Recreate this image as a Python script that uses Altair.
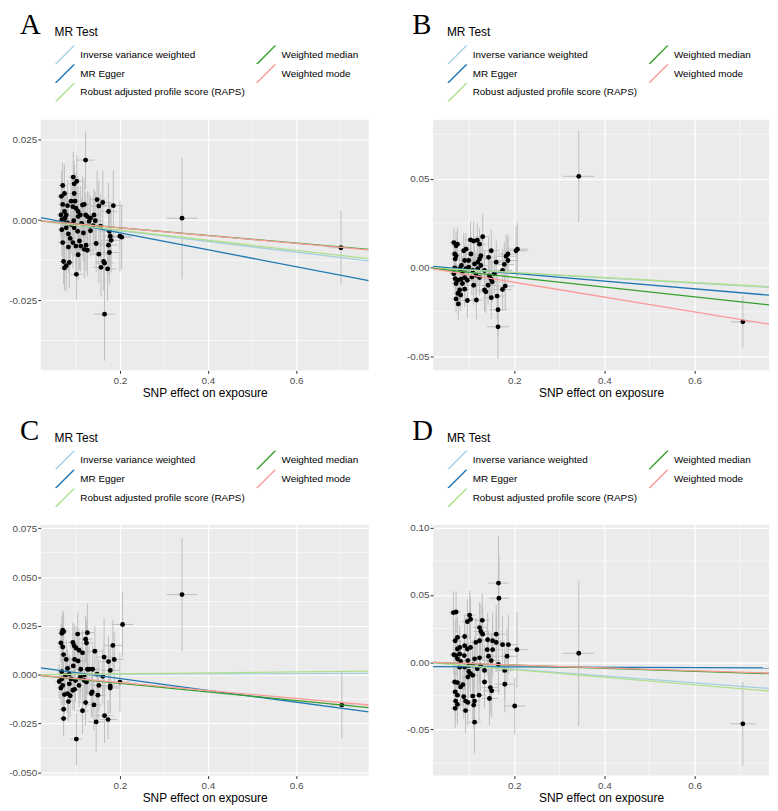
import altair as alt
import pandas as pd

# ---------------- data ----------------
METHODS = ["Inverse variance weighted", "MR Egger", "Robust adjusted profile score (RAPS)",
           "Weighted median", "Weighted mode"]
METHOD_COLORS = ["#A6CEE3", "#1F78B4", "#B2DF8A", "#33A02C", "#FB9A99"]

X_DOMAIN = [0.02, 0.765]
X_TICKS = [0.2, 0.4, 0.6]
X_MINOR = [0.1, 0.3, 0.5, 0.7]

# Panel A
A_x = [0.122, 0.094, 0.070, 0.067, 0.074, 0.096, 0.102, 0.096, 0.089, 0.070,
       0.093, 0.100, 0.074, 0.078, 0.119, 0.115, 0.148, 0.161, 0.152, 0.185,
       0.174, 0.141, 0.122, 0.105, 0.110, 0.126, 0.133, 0.144, 0.068, 0.072,
       0.081, 0.089, 0.078, 0.068, 0.096, 0.104, 0.117, 0.133, 0.156, 0.176,
       0.178, 0.200, 0.204, 0.083, 0.070, 0.093, 0.100, 0.111, 0.119, 0.126,
       0.083, 0.146, 0.180, 0.174, 0.176, 0.152, 0.105, 0.072, 0.085, 0.074,
       0.078, 0.163, 0.165, 0.157, 0.172, 0.101, 0.165, 0.341, 0.702, 0.066,
       0.075, 0.095, 0.113, 0.130, 0.139, 0.087, 0.108, 0.123, 0.081, 0.098,
       0.105]
A_y = [0.0187, 0.0134, 0.0108, 0.0074, 0.0083, 0.0113, 0.0121, 0.0083, 0.0059, 0.0049,
       0.0042, 0.0037, 0.0027, 0.0016, 0.0049, 0.0047, 0.0064, 0.0055, 0.0044, 0.0045,
       0.0027, 0.0016, 0.0016, 0.0011, 0.0016, 0.0011, 0.0006, -0.0002, 0.0001, -0.0004,
       -0.0009, -0.0014, -0.0024, -0.0030, -0.0024, -0.0035, -0.0040, -0.0033, -0.0019, -0.0035,
       -0.0050, -0.0050, -0.0053, -0.0043, -0.0070, -0.0070, -0.0081, -0.0081, -0.0091, -0.0094,
       -0.0084, -0.0073, -0.0063, -0.0078, -0.0101, -0.0106, -0.0108, -0.0129, -0.0132, -0.0149,
       -0.0142, -0.0129, -0.0134, -0.0147, -0.0152, -0.0169, -0.0293, 0.0006, -0.0086, 0.0016,
       0.0006, -0.0002, -0.0010, -0.0004, -0.0017, -0.0057, -0.0065, -0.0078, 0.0045, 0.0059,
       0.0027]
A_sey = [0.009, 0.008, 0.007, 0.008, 0.009, 0.007, 0.008, 0.009, 0.008, 0.007,
         0.009, 0.008, 0.008, 0.007, 0.008, 0.009, 0.009, 0.010, 0.008, 0.011,
         0.009, 0.008, 0.007, 0.008, 0.009, 0.008, 0.007, 0.009, 0.007, 0.008,
         0.008, 0.009, 0.007, 0.008, 0.009, 0.008, 0.009, 0.008, 0.010, 0.009,
         0.010, 0.011, 0.010, 0.008, 0.007, 0.008, 0.009, 0.008, 0.009, 0.008,
         0.008, 0.009, 0.010, 0.009, 0.010, 0.009, 0.008, 0.007, 0.008, 0.007,
         0.008, 0.009, 0.010, 0.009, 0.010, 0.008, 0.0145, 0.019, 0.0115, 0.007,
         0.008, 0.009, 0.008, 0.009, 0.009, 0.008, 0.009, 0.008, 0.008, 0.009,
         0.008]
A_sex = [0.020, 0.012, 0.010, 0.009, 0.010, 0.012, 0.013, 0.012, 0.011, 0.010,
         0.012, 0.013, 0.010, 0.010, 0.014, 0.014, 0.018, 0.020, 0.018, 0.022,
         0.020, 0.017, 0.015, 0.013, 0.014, 0.016, 0.016, 0.018, 0.009, 0.010,
         0.011, 0.011, 0.010, 0.009, 0.012, 0.013, 0.015, 0.016, 0.019, 0.021,
         0.021, 0.023, 0.024, 0.011, 0.010, 0.012, 0.013, 0.014, 0.015, 0.016,
         0.011, 0.018, 0.021, 0.020, 0.021, 0.018, 0.013, 0.010, 0.011, 0.010,
         0.010, 0.019, 0.020, 0.019, 0.020, 0.013, 0.024, 0.035, 0.027, 0.009,
         0.010, 0.012, 0.014, 0.016, 0.017, 0.011, 0.014, 0.015, 0.011, 0.012,
         0.013]
A_slope = [-0.0166, -0.0264, -0.0157, -0.0119, -0.0121]
A_int = [0.0, 0.00133, 0.0, 0.0, 0.0]

# Panel B
B_x = [0.343, 0.707, 0.066, 0.074, 0.071, 0.130, 0.118, 0.110, 0.103, 0.123,
       0.093, 0.088, 0.068, 0.071, 0.069, 0.104, 0.126, 0.123, 0.149, 0.143,
       0.204, 0.207, 0.186, 0.182, 0.160, 0.178, 0.090, 0.099, 0.112, 0.119,
       0.126, 0.083, 0.068, 0.079, 0.093, 0.099, 0.108, 0.174, 0.145, 0.149,
       0.142, 0.151, 0.069, 0.075, 0.082, 0.090, 0.106, 0.115, 0.123, 0.071,
       0.085, 0.096, 0.110, 0.079, 0.090, 0.075, 0.081, 0.071, 0.076, 0.096,
       0.116, 0.134, 0.137, 0.174, 0.180, 0.162, 0.149, 0.164, 0.164, 0.085,
       0.066, 0.134, 0.156, 0.186, 0.119]
B_y = [0.0513, -0.0306, 0.0140, 0.0131, 0.0122, 0.0173, 0.0153, 0.0149, 0.0155, 0.0131,
       0.0103, 0.0094, 0.0076, 0.0066, 0.0048, 0.0076, 0.0066, 0.0048, 0.0094, 0.0057,
       0.0094, 0.0103, 0.0076, 0.0063, 0.0030, 0.0017, 0.0039, 0.0039, 0.0020, 0.0030,
       0.0011, 0.0011, -0.0002, -0.0007, -0.0007, 0.0002, -0.0017, -0.0017, -0.0048, -0.0066,
       -0.0100, -0.0081, -0.0063, -0.0072, -0.0066, -0.0057, -0.0054, -0.0044, -0.0057, -0.0090,
       -0.0090, -0.0072, -0.0100, -0.0127, -0.0122, -0.0146, -0.0155, -0.0177, -0.0205, -0.0186,
       -0.0183, -0.0127, -0.0137, -0.0124, -0.0105, -0.0161, -0.0170, -0.0238, -0.0334, -0.0026,
       -0.0035, -0.0017, -0.0035, 0.0039, -0.0007]
B_sey = [0.0256, 0.0145, 0.008, 0.009, 0.008, 0.013, 0.010, 0.011, 0.010, 0.009,
         0.009, 0.010, 0.008, 0.009, 0.008, 0.010, 0.011, 0.010, 0.012, 0.011,
         0.014, 0.015, 0.011, 0.012, 0.012, 0.013, 0.009, 0.010, 0.010, 0.011,
         0.010, 0.009, 0.008, 0.009, 0.010, 0.009, 0.010, 0.012, 0.012, 0.011,
         0.011, 0.012, 0.008, 0.009, 0.009, 0.010, 0.010, 0.011, 0.010, 0.008,
         0.009, 0.010, 0.011, 0.009, 0.010, 0.008, 0.009, 0.008, 0.009, 0.010,
         0.011, 0.012, 0.012, 0.012, 0.013, 0.013, 0.012, 0.015, 0.018, 0.009,
         0.008, 0.011, 0.012, 0.013, 0.010]
B_sex = [0.035, 0.027, 0.009, 0.010, 0.010, 0.016, 0.014, 0.013, 0.013, 0.015,
         0.012, 0.011, 0.009, 0.010, 0.009, 0.013, 0.016, 0.015, 0.019, 0.018,
         0.024, 0.024, 0.022, 0.021, 0.019, 0.021, 0.011, 0.012, 0.014, 0.015,
         0.016, 0.011, 0.009, 0.010, 0.012, 0.012, 0.013, 0.021, 0.018, 0.019,
         0.018, 0.019, 0.009, 0.010, 0.011, 0.011, 0.013, 0.014, 0.015, 0.010,
         0.011, 0.012, 0.013, 0.010, 0.011, 0.010, 0.011, 0.010, 0.010, 0.012,
         0.014, 0.016, 0.017, 0.021, 0.021, 0.019, 0.018, 0.020, 0.024, 0.011,
         0.009, 0.016, 0.019, 0.022, 0.015]
B_slope = [-0.0146, -0.0217, -0.0142, -0.0275, -0.0417]
B_int = [0.0, 0.0010, 0.0, 0.0, 0.0]

# Panel C
C_x = [0.341, 0.704, 0.206, 0.070, 0.068, 0.072, 0.104, 0.126, 0.066, 0.070,
       0.093, 0.096, 0.100, 0.122, 0.124, 0.184, 0.107, 0.115, 0.143, 0.072,
       0.078, 0.097, 0.105, 0.164, 0.187, 0.174, 0.094, 0.081, 0.111, 0.126,
       0.130, 0.178, 0.068, 0.076, 0.085, 0.148, 0.110, 0.119, 0.124, 0.099,
       0.089, 0.161, 0.200, 0.066, 0.070, 0.085, 0.107, 0.097, 0.093, 0.152,
       0.178, 0.178, 0.137, 0.135, 0.074, 0.081, 0.087, 0.150, 0.083, 0.122,
       0.141, 0.072, 0.115, 0.165, 0.173, 0.072, 0.146, 0.101, 0.062, 0.068,
       0.119, 0.138]
C_y = [0.0410, -0.0155, 0.0257, 0.0228, 0.0212, 0.0220, 0.0208, 0.0215, 0.0162, 0.0142,
       0.0165, 0.0148, 0.0137, 0.0182, 0.0162, 0.0150, 0.0125, 0.0112, 0.0120, 0.0103,
       0.0078, 0.0078, 0.0070, 0.0090, 0.0078, 0.0067, 0.0045, 0.0032, 0.0028, 0.0028,
       0.0028, 0.0022, 0.0015, -0.0005, 0.0003, 0.0003, -0.0013, -0.0030, -0.0038, -0.0030,
       -0.0022, -0.0008, -0.0038, -0.0068, -0.0055, -0.0047, -0.0055, -0.0075, -0.0080, -0.0055,
       -0.0058, -0.0068, -0.0088, -0.0097, -0.0102, -0.0097, -0.0108, -0.0105, -0.0138, -0.0143,
       -0.0155, -0.0177, -0.0185, -0.0210, -0.0230, -0.0225, -0.0242, -0.0330, -0.0035, -0.0022,
       -0.0002, 0.0028]
C_sey = [0.029, 0.0171, 0.0167, 0.010, 0.009, 0.010, 0.011, 0.015, 0.010, 0.009,
         0.010, 0.011, 0.011, 0.012, 0.012, 0.013, 0.011, 0.012, 0.013, 0.010,
         0.010, 0.011, 0.011, 0.020, 0.014, 0.013, 0.011, 0.010, 0.012, 0.013,
         0.012, 0.013, 0.009, 0.010, 0.010, 0.013, 0.012, 0.012, 0.013, 0.011,
         0.011, 0.014, 0.015, 0.009, 0.010, 0.010, 0.011, 0.011, 0.010, 0.013,
         0.014, 0.013, 0.013, 0.012, 0.010, 0.010, 0.011, 0.013, 0.010, 0.012,
         0.013, 0.009, 0.012, 0.014, 0.010, 0.009, 0.015, 0.0133, 0.009, 0.010,
         0.012, 0.012]
C_sex = [0.035, 0.027, 0.024, 0.010, 0.009, 0.010, 0.013, 0.016, 0.009, 0.010,
         0.012, 0.012, 0.013, 0.015, 0.015, 0.022, 0.013, 0.014, 0.018, 0.010,
         0.010, 0.012, 0.013, 0.020, 0.022, 0.021, 0.012, 0.011, 0.014, 0.016,
         0.016, 0.021, 0.009, 0.010, 0.011, 0.018, 0.014, 0.015, 0.015, 0.012,
         0.011, 0.019, 0.023, 0.009, 0.010, 0.011, 0.013, 0.012, 0.012, 0.018,
         0.021, 0.021, 0.017, 0.017, 0.010, 0.011, 0.011, 0.018, 0.011, 0.015,
         0.017, 0.010, 0.014, 0.020, 0.020, 0.010, 0.018, 0.013, 0.009, 0.009,
         0.015, 0.017]
C_slope = [0.0009, -0.0303, 0.0024, -0.0221, -0.0203]
C_int = [0.0, 0.0041, 0.0, 0.0, 0.0]

# Panel D
D_x = [0.343, 0.707, 0.165, 0.166, 0.065, 0.071, 0.101, 0.103, 0.096, 0.129,
       0.123, 0.126, 0.130, 0.160, 0.123, 0.141, 0.152, 0.074, 0.090, 0.069,
       0.115, 0.160, 0.174, 0.187, 0.090, 0.079, 0.103, 0.074, 0.096, 0.140,
       0.152, 0.206, 0.066, 0.071, 0.079, 0.089, 0.143, 0.184, 0.112, 0.123,
       0.149, 0.074, 0.081, 0.097, 0.079, 0.090, 0.099, 0.108, 0.125, 0.165,
       0.099, 0.103, 0.108, 0.097, 0.179, 0.068, 0.074, 0.086, 0.081, 0.134,
       0.179, 0.147, 0.150, 0.069, 0.074, 0.088, 0.122, 0.108, 0.112, 0.092,
       0.097, 0.070, 0.074, 0.145, 0.110, 0.092, 0.069, 0.201, 0.112, 0.118,
       0.134]
D_y = [0.0066, -0.0458, 0.0588, 0.0475, 0.0368, 0.0373, 0.0350, 0.0319, 0.0301, 0.0311,
       0.0257, 0.0228, 0.0208, 0.0208, 0.0159, 0.0167, 0.0159, 0.0184, 0.0191, 0.0159,
       0.0147, 0.0147, 0.0130, 0.0130, 0.0123, 0.0110, 0.0110, 0.0098, 0.0098, 0.0093,
       0.0093, 0.0093, 0.0056, 0.0049, 0.0061, 0.0049, 0.0044, 0.0044, 0.0025, 0.0032,
       0.0012, 0.0025, 0.0005, 0.0012, -0.0037, -0.0037, -0.0025, -0.0020, -0.0025, -0.0017,
       -0.0069, -0.0086, -0.0098, -0.0110, -0.0061, -0.0147, -0.0152, -0.0167, -0.0184, -0.0147,
       -0.0164, -0.0189, -0.0213, -0.0221, -0.0245, -0.0257, -0.0245, -0.0252, -0.0289, -0.0289,
       -0.0299, -0.0289, -0.0314, -0.0270, -0.0319, -0.0360, -0.0343, -0.0326, -0.0446, -0.0049,
       -0.0061]
D_sey = [0.054, 0.031, 0.035, 0.032, 0.016, 0.015, 0.018, 0.017, 0.017, 0.020,
         0.019, 0.020, 0.020, 0.022, 0.018, 0.020, 0.021, 0.015, 0.016, 0.015,
         0.018, 0.022, 0.021, 0.022, 0.016, 0.016, 0.017, 0.015, 0.016, 0.019,
         0.020, 0.028, 0.015, 0.015, 0.016, 0.016, 0.019, 0.021, 0.017, 0.018,
         0.020, 0.015, 0.016, 0.017, 0.016, 0.017, 0.017, 0.018, 0.019, 0.022,
         0.017, 0.018, 0.018, 0.017, 0.021, 0.015, 0.015, 0.016, 0.016, 0.019,
         0.021, 0.020, 0.020, 0.015, 0.015, 0.016, 0.019, 0.018, 0.018, 0.017,
         0.017, 0.015, 0.015, 0.020, 0.018, 0.017, 0.015, 0.021, 0.023, 0.018,
         0.019]
D_sex = [0.035, 0.028, 0.022, 0.022, 0.009, 0.011, 0.013, 0.014, 0.012, 0.016,
         0.015, 0.016, 0.017, 0.020, 0.015, 0.018, 0.019, 0.010, 0.011, 0.009,
         0.014, 0.020, 0.021, 0.022, 0.011, 0.010, 0.013, 0.010, 0.012, 0.017,
         0.019, 0.024, 0.009, 0.010, 0.010, 0.011, 0.018, 0.021, 0.014, 0.015,
         0.019, 0.010, 0.010, 0.012, 0.010, 0.011, 0.012, 0.013, 0.015, 0.020,
         0.012, 0.013, 0.013, 0.012, 0.021, 0.009, 0.010, 0.011, 0.011, 0.016,
         0.021, 0.018, 0.019, 0.009, 0.010, 0.011, 0.015, 0.013, 0.014, 0.011,
         0.012, 0.009, 0.010, 0.018, 0.013, 0.011, 0.009, 0.023, 0.014, 0.015,
         0.016]
D_slope = [-0.0255, -0.0013, -0.0280, -0.0112, -0.0105]
D_int = [0.0, -0.0032, 0.0, 0.0, 0.0]


# ---------------- chart ----------------
def make_panel(letter, xs, ys, sey, sex, slopes, ints, ydomain, yticks, yfmt, yminor, width, height):
    pts = pd.DataFrame({"x": xs, "y": ys, "sey": sey, "sex": sex})
    fits = pd.DataFrame({"method": METHODS, "slope": slopes, "intercept": ints})
    xmin_df = pd.DataFrame({"v": X_MINOR})
    ymin_df = pd.DataFrame({"v": yminor})

    xscale = alt.Scale(domain=X_DOMAIN, nice=False, zero=False)
    yscale = alt.Scale(domain=ydomain, nice=False, zero=False)
    xaxis = alt.Axis(values=X_TICKS, format=".1f", title="SNP effect on exposure")
    yaxis = alt.Axis(values=yticks, format=yfmt, title=None,
                     labelExpr="replace(datum.label, '\u2212', '-')")

    def X(f):
        return alt.X(f, type="quantitative", scale=xscale, axis=xaxis)

    def Y(f):
        return alt.Y(f, type="quantitative", scale=yscale, axis=yaxis)

    vminor = alt.Chart(xmin_df).mark_rule(color="white", strokeWidth=0.6).encode(x=X("v"))
    hminor = alt.Chart(ymin_df).mark_rule(color="white", strokeWidth=0.6).encode(y=Y("v"))
    vbar = (alt.Chart(pts)
            .transform_calculate(lo="datum.y - datum.sey", hi="datum.y + datum.sey")
            .mark_rule(color="#BEBEBE", strokeWidth=1, clip=True)
            .encode(x=X("x"), y=Y("lo"), y2="hi:Q"))
    hbar = (alt.Chart(pts)
            .transform_calculate(lo="datum.x - datum.sex", hi="datum.x + datum.sex")
            .mark_rule(color="#BEBEBE", strokeWidth=1, clip=True)
            .encode(x=X("lo"), x2="hi:Q", y=Y("y")))
    dots = alt.Chart(pts).mark_circle(color="black", opacity=1, size=24).encode(x=X("x"), y=Y("y"))
    lines = (alt.Chart(fits)
             .transform_calculate(
                 x0=str(X_DOMAIN[0]), x1=str(X_DOMAIN[1]),
                 y0=f"datum.intercept + datum.slope * {X_DOMAIN[0]}",
                 y1=f"datum.intercept + datum.slope * {X_DOMAIN[1]}")
             .mark_rule(strokeWidth=1.3, clip=True)
             .encode(
                 x=X("x0"), x2="x1:Q", y=Y("y0"), y2="y1:Q",
                 color=alt.Color("method:N",
                                 scale=alt.Scale(domain=METHODS, range=METHOD_COLORS),
                                 sort=METHODS,
                                 legend=alt.Legend(
                                     title="MR Test", orient="none", legendX=14, legendY=-93,
                                     columns=2, symbolType="M-1,1L1,-1", symbolSize=361,
                                     symbolStrokeWidth=1.4, labelFontSize=10, titleFontSize=12,
                                     titleFontWeight="normal", columnPadding=10, rowPadding=0,
                                     clipHeight=19,
                                     labelOffset=5, titlePadding=6, padding=0, labelLimit=300,
                                     labelColor="black", titleColor="black",
                                     labelFont="Liberation Sans", titleFont="Liberation Sans"))))
    return alt.layer(vminor, hminor, vbar, hbar, dots, lines).properties(
        width=width, height=height,
        title=alt.TitleParams(letter, anchor="start", frame="group", dx=-21, offset=-13,
                              fontSize=29, font="Liberation Serif", fontWeight="normal",
                              color="black"))


pA = make_panel("A", A_x, A_y, A_sey, A_sex, A_slope, A_int, [-0.0468, 0.0313],
                [-0.025, 0.0, 0.025], ".3f", [-0.0375, -0.0125, 0.0125], 331, 253)
pB = make_panel("B", B_x, B_y, B_sey, B_sex, B_slope, B_int, [-0.0579, 0.0832],
                [-0.05, 0.0, 0.05], ".2f", [-0.025, 0.025, 0.075], 339, 253)
pC = make_panel("C", C_x, C_y, C_sey, C_sex, C_slope, C_int, [-0.0517, 0.0767],
                [-0.05, -0.025, 0.0, 0.025, 0.05, 0.075], ".3f",
                [-0.0375, -0.0125, 0.0125, 0.0375, 0.0625], 331, 253)
pD = make_panel("D", D_x, D_y, D_sey, D_sex, D_slope, D_int, [-0.0843, 0.102],
                [-0.05, 0.0, 0.05, 0.10], ".2f", [-0.075, -0.025, 0.025, 0.075], 339, 253)

row1 = (alt.hconcat(pA, pB, spacing=37)
        .resolve_scale(color="independent").resolve_legend(color="independent"))
row2 = (alt.hconcat(pC, pD, spacing=37)
        .resolve_scale(color="independent").resolve_legend(color="independent"))

chart = (alt.vconcat(row1, row2, spacing=19)
         .resolve_scale(color="independent").resolve_legend(color="independent")
         .properties(padding={"top": 0, "left": 0, "right": 0, "bottom": 0})
         .configure(font="Liberation Sans")
         .configure_view(fill="#EBEBEB", stroke=None)
         .configure_axis(domain=False, tickColor="#333333", tickSize=3, tickWidth=1,
                         labelColor="#4D4D4D", labelFontSize=10, labelFont="Liberation Sans",
                         gridColor="#FFFFFF", gridWidth=1.2, titleFont="Liberation Sans",
                         titleFontSize=12, titleFontWeight="normal", titleColor="#000000")
         .configure_axisX(labelPadding=2, titlePadding=2)
         .configure_axisY(labelPadding=1))

chart.save("out.html", embed_options={"renderer": "svg", "actions": False})
